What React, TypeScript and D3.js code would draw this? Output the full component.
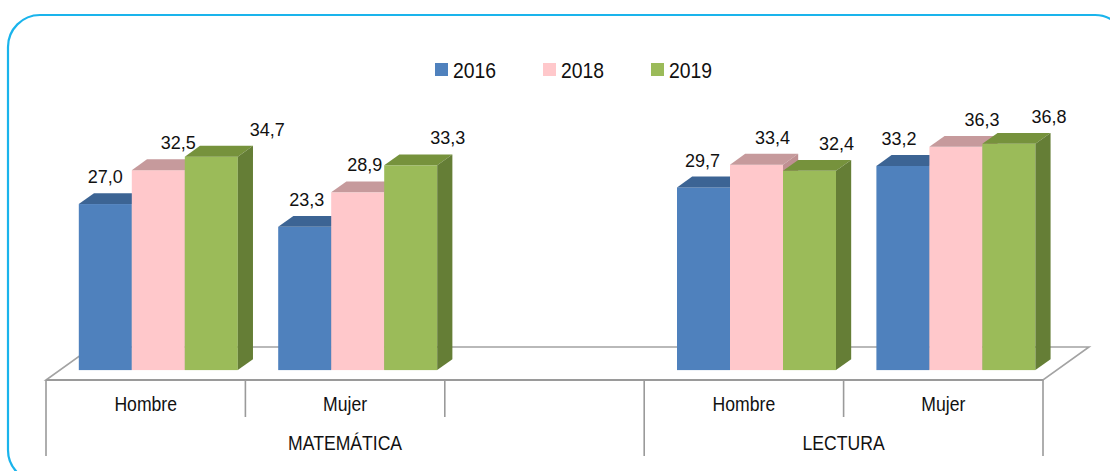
import React from "react";
import * as d3 from "d3";

const categories = ["Hombre", "Mujer", "", "Hombre", "Mujer"];
const groupLabels = ["MATEMÁTICA", "LECTURA"];
const groupSpans = [3, 2];
const series = ["2016", "2018", "2019"];
const values2016 = [27.0, 23.3, null, 29.7, 33.2];
const values2018 = [32.5, 28.9, null, 33.4, 36.3];
const values2019 = [34.7, 33.3, null, 32.4, 36.8];
const seriesValues = [values2016, values2018, values2019];

const frontColors = ["#4f81bd", "#ffc8cb", "#9bbb59"];
const topColors = ["#3c6494", "#c69a9c", "#76923c"];
const sideColors = ["#385d8a", "#bf9092", "#657e36"];
// horizontal nudges of the value labels (per category, per series), as placed in the original
const labelNudge = [
  [0, 20, 56],
  [2, 7, 37],
  [0, 0, 0],
  [-1, 16, 27],
  [-4, 26, 40],
];

const W = 1110;
const H = 471;
const FONT = "'Liberation Sans', Arial, sans-serif";

export default function App() {
  const floorFrontY = 380;
  const depthDx = 46;
  const depthDy = -33;
  const frontFrac = 0.3;
  const backFrac = 0.63;
  const x0 = d3.scaleBand<number>().domain(d3.range(categories.length)).range([46, 1043]).padding(0);
  const x1 = d3.scaleBand<string>().domain(series).range([19, 178]).padding(0);
  const baseY = floorFrontY + depthDy * frontFrac;
  const y = d3.scaleLinear().domain([0, 40]).range([baseY, baseY - 246]);
  const fdx = depthDx * frontFrac;
  const tdx = depthDx * (backFrac - frontFrac);
  const tdy = depthDy * (backFrac - frontFrac);

  const left = x0.range()[0];
  const right = x0.range()[1];
  const floorPts = [
    [left, floorFrontY],
    [right, floorFrontY],
    [right + depthDx, floorFrontY + depthDy],
    [left + depthDx, floorFrontY + depthDy],
  ];

  const bars: JSX.Element[] = [];
  const labels: JSX.Element[] = [];
  categories.forEach((_, ci) => {
    series.forEach((s, si) => {
      const v = seriesValues[si][ci];
      if (v == null) return;
      const xa = x0(ci)! + x1(s)! + fdx;
      const w = x1.bandwidth();
      const yt = y(v);
      const yb = y(0);
      bars.push(
        <g key={`b${ci}-${si}`}>
          <rect x={xa} y={yt} width={w} height={yb - yt} fill={frontColors[si]} />
          <polygon
            points={`${xa},${yt} ${xa + w},${yt} ${xa + w + tdx},${yt + tdy} ${xa + tdx},${yt + tdy}`}
            fill={topColors[si]}
          />
          <polygon
            points={`${xa + w},${yt} ${xa + w + tdx},${yt + tdy} ${xa + w + tdx},${yb + tdy} ${xa + w},${yb}`}
            fill={sideColors[si]}
          />
        </g>
      );
      labels.push(
        <text
          key={`l${ci}-${si}`}
          x={xa + w / 2 + labelNudge[ci][si]}
          y={yt + tdy - 10}
          textAnchor="middle"
          fontSize={18}
          fill="#111"
        >
          {v.toFixed(1).replace(".", ",")}
        </text>
      );
    });
  });

  const ticks: JSX.Element[] = [];
  const groupBounds: number[] = [0];
  groupSpans.forEach((n) => groupBounds.push(groupBounds[groupBounds.length - 1] + n));
  for (let i = 0; i <= categories.length; i++) {
    const x = i < categories.length ? x0(i)! : right;
    const outer = groupBounds.includes(i);
    ticks.push(
      <line key={`t${i}`} x1={x} x2={x} y1={floorFrontY} y2={outer ? 456 : 417} stroke="#9a9a9a" strokeWidth={1.6} />
    );
  }

  const legendX0 = 435;
  const legendStep = 108;

  return (
    <svg
      width={W}
      height={H}
      style={{ position: "absolute", left: 0, top: 0, fontFamily: FONT }}
    >
      <rect x={0} y={0} width={W} height={H} fill="#fff" />
      <rect x={8} y={15} width={1119} height={467} rx={32} ry={32} fill="#fff" stroke="#1ab4ec" strokeWidth={2.2} />
      <polygon points={floorPts.map((p) => p.join(",")).join(" ")} fill="#fff" stroke="#a3a3a3" strokeWidth={1.6} />
      <line x1={left} x2={right} y1={floorFrontY} y2={floorFrontY} stroke="#9a9a9a" strokeWidth={2.2} />
      {bars}
      {labels}
      {ticks}
      {categories.map((c, i) =>
        c ? (
          <text
            key={`c${i}`}
            transform={`translate(${x0(i)! + x0.bandwidth() / 2},411) scale(0.88,1)`}
            textAnchor="middle"
            fontSize={20}
            fill="#111"
          >
            {c}
          </text>
        ) : null
      )}
      {groupLabels.map((g, gi) => {
        const a = x0(groupBounds[gi])!;
        const b = groupBounds[gi + 1] < categories.length ? x0(groupBounds[gi + 1])! : right;
        return (
          <text
            key={`g${gi}`}
            transform={`translate(${(a + b) / 2},450) scale(0.88,1)`}
            textAnchor="middle"
            fontSize={20}
            fill="#111"
          >
            {g}
          </text>
        );
      })}
      {series.map((s, si) => (
        <g key={`lg${si}`} transform={`translate(${legendX0 + si * legendStep},0)`}>
          <rect x={0} y={63} width={13} height={13} fill={frontColors[si]} />
          <text transform="translate(18,78) scale(0.88,1)" fontSize={22} fill="#111">
            {s}
          </text>
        </g>
      ))}
    </svg>
  );
}
